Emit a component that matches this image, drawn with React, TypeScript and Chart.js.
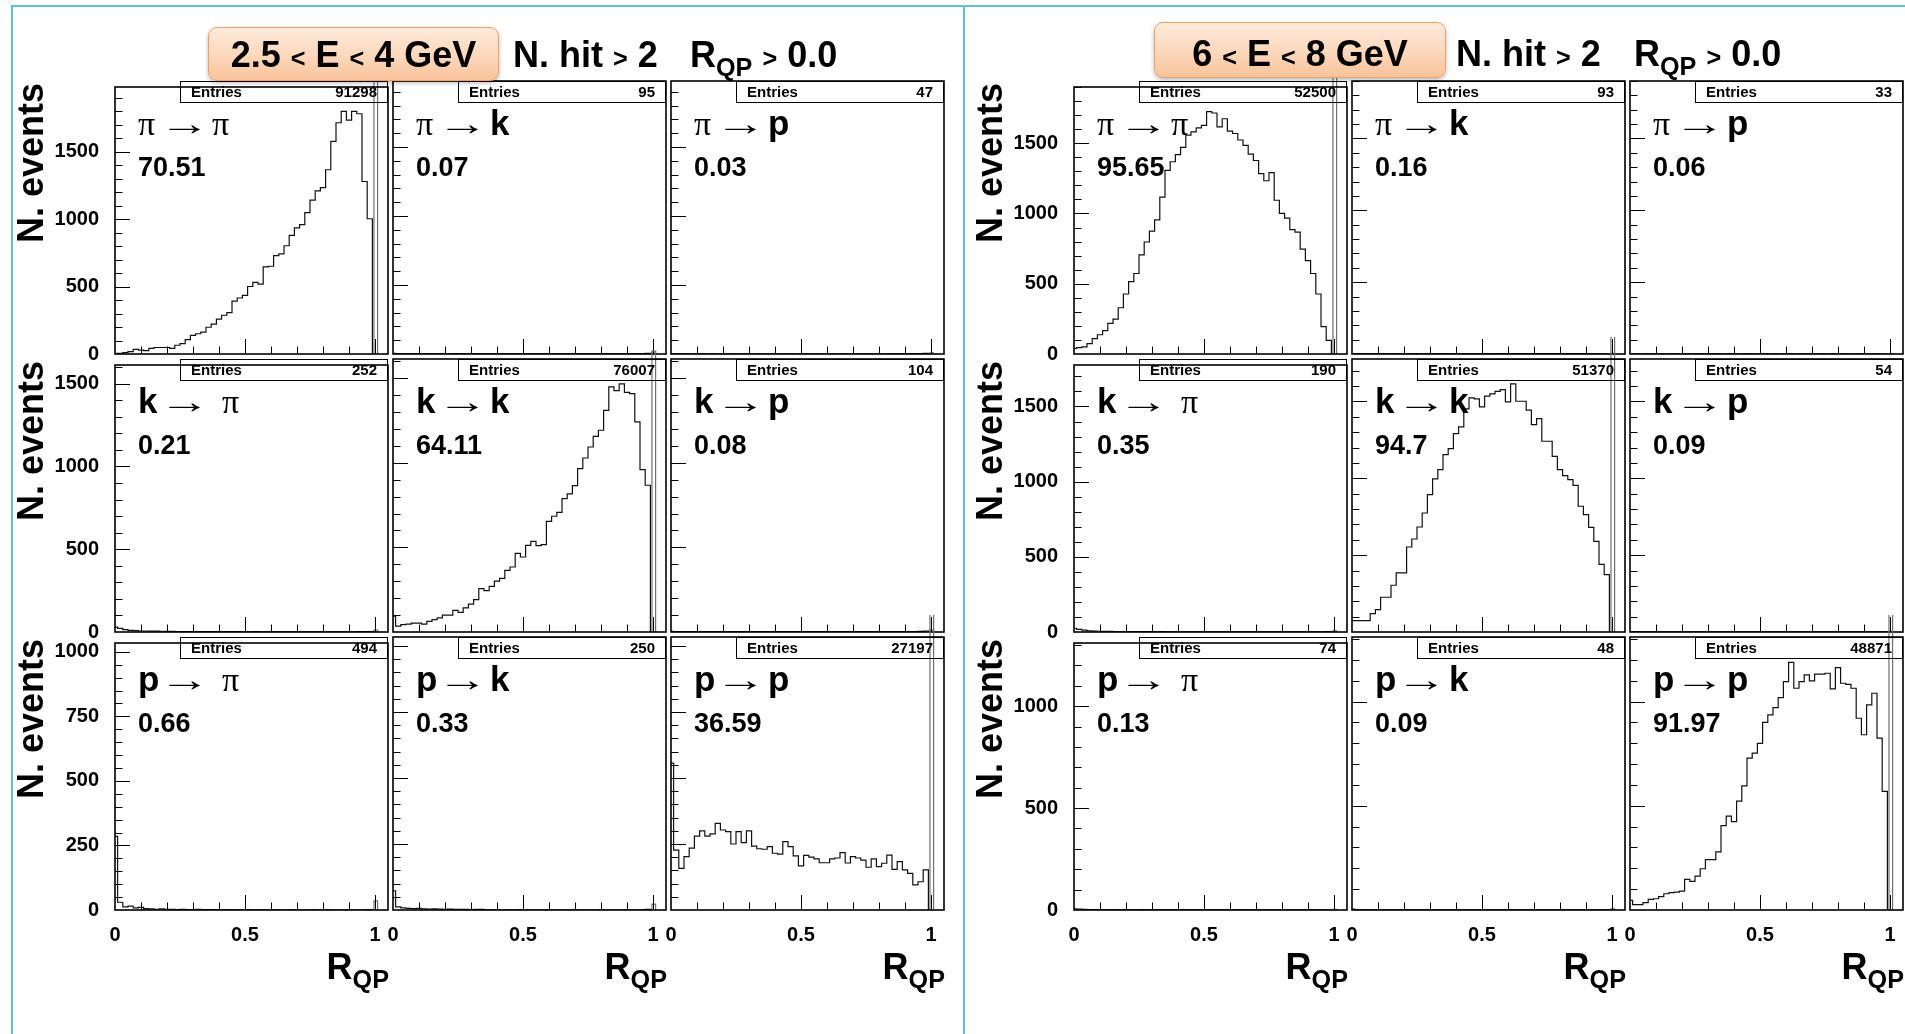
import React, { useEffect, useRef } from 'react';
import { Chart, registerables } from 'chart.js';

Chart.register(...registerables);

// ---------------------------------------------------------------------------
// Data: R_QP distributions, 50 bins of width 0.02 starting at -0.01.
// The R_QP ≈ 1 bin is kept on its own (it runs off scale in the diagonal pads).
// Pads are ordered true particle (row) -> identified particle (column).
// ---------------------------------------------------------------------------
const BIN_START = -0.01;
const BIN_WIDTH = 0.02;
const LAST_BIN = [0.996, 1.01];

const X_RANGE = [0, 1.05];
const X_TICKS = [0, 0.5, 1];
const X_MINOR = 0.1;

const PARTICLES = ['π', 'k', 'p'];

// ---- 2.5 < E < 4 GeV ----
const LOW_PI_PI = [5, 5, 10, 18, 34, 29, 25, 41, 48, 48, 48, 41, 65, 77, 106, 138, 150, 162, 198, 222, 258, 287, 307, 391, 415, 435, 500, 531, 517, 645, 650, 729, 742, 802, 879, 935, 959, 1048, 1140, 1208, 1232, 1365, 1575, 1713, 1797, 1732, 1797, 1780, 1278, 1002];
const LOW_PI_K = [4, 2, 2, 1, 2, 1, 1, 2, 1, 1, 1, 1, 2, 1, 1, 1, 1, 1, 1, 1, 1, 1, 1, 1, 1, 1, 1, 1, 1, 1, 1, 1, 1, 1, 1, 1, 1, 1, 1, 1, 1, 1, 1, 1, 1, 2, 2, 3, 3, 5];
const LOW_PI_P = [2, 1, 1, 1, 0, 1, 1, 0, 1, 0, 1, 0, 1, 0, 0, 1, 0, 1, 0, 0, 1, 0, 0, 1, 0, 1, 0, 0, 1, 0, 0, 1, 0, 1, 0, 0, 1, 0, 1, 0, 1, 0, 1, 1, 1, 1, 2, 2, 3, 4];
const LOW_K_PI = [30, 22, 14, 10, 8, 6, 6, 5, 5, 4, 4, 4, 3, 3, 3, 3, 3, 2, 2, 2, 2, 2, 2, 2, 2, 1, 1, 2, 1, 1, 1, 1, 1, 1, 1, 1, 1, 1, 1, 1, 1, 1, 1, 1, 1, 1, 1, 2, 2, 3];
const LOW_K_K = [93, 35, 43, 47, 53, 53, 47, 63, 73, 83, 100, 100, 128, 116, 142, 165, 191, 256, 244, 270, 301, 317, 364, 384, 465, 443, 512, 536, 510, 516, 654, 684, 707, 788, 816, 865, 965, 1028, 1093, 1156, 1192, 1310, 1448, 1426, 1466, 1416, 1409, 1241, 959, 867];
const LOW_K_P = [4, 3, 2, 2, 2, 2, 2, 2, 2, 2, 2, 2, 2, 2, 2, 2, 2, 2, 2, 2, 2, 2, 2, 2, 2, 2, 2, 2, 2, 2, 2, 2, 2, 2, 2, 2, 2, 2, 2, 2, 2, 2, 2, 2, 2, 2, 3, 3, 4, 6];
const LOW_P_PI = [285, 30, 12, 15, 8, 10, 5, 4, 3, 4, 3, 3, 2, 3, 2, 2, 3, 2, 2, 2, 1, 2, 1, 1, 1, 0, 1, 0, 1, 0, 0, 1, 0, 0, 1, 0, 0, 0, 1, 0, 0, 1, 0, 0, 0, 1, 0, 0, 1, 2];
const LOW_P_K = [73, 12, 8, 6, 5, 6, 4, 3, 4, 3, 2, 3, 2, 2, 2, 1, 2, 2, 1, 1, 1, 0, 1, 0, 1, 0, 0, 0, 0, 0, 1, 0, 0, 0, 0, 1, 0, 0, 0, 0, 1, 0, 0, 0, 0, 1, 0, 0, 1, 2];
const LOW_P_P = [556, 227, 158, 202, 234, 280, 300, 280, 288, 328, 303, 297, 250, 297, 255, 300, 242, 232, 230, 240, 215, 212, 259, 240, 205, 167, 207, 200, 194, 179, 179, 194, 197, 217, 178, 202, 197, 189, 162, 194, 164, 177, 208, 154, 183, 152, 139, 95, 107, 152];
const LOW_LAST_BIN = [2600, 15, 8, 12, 1660, 12, 35, 22, 1300];
const LOW_ENTRIES = [91298, 95, 47, 252, 76007, 104, 494, 250, 27197];
const LOW_FRACTIONS = [70.51, 0.07, 0.03, 0.21, 64.11, 0.08, 0.66, 0.33, 36.59];
const LOW_Y_MAX = [1978, 1613, 1034];
const LOW_Y_TICKS = [[0, 500, 1000, 1500], [0, 500, 1000, 1500], [0, 250, 500, 750, 1000]];
const LOW_Y_MINOR = [100, 100, 50];
const LOW_ENERGY = ['2.5', 'E', '4 GeV'];

// ---- 6 < E < 8 GeV ----
const HIGH_PI_PI = [39, 46, 51, 74, 109, 137, 167, 218, 248, 329, 427, 515, 573, 705, 797, 874, 955, 1117, 1307, 1368, 1419, 1470, 1558, 1581, 1609, 1627, 1725, 1715, 1616, 1674, 1586, 1569, 1523, 1484, 1423, 1377, 1284, 1233, 1291, 1094, 1001, 967, 885, 867, 746, 665, 573, 427, 195, 97];
const HIGH_PI_K = [3, 2, 2, 2, 1, 2, 1, 1, 2, 1, 1, 1, 2, 1, 1, 2, 1, 1, 2, 1, 1, 2, 1, 2, 1, 2, 2, 1, 2, 2, 2, 2, 3, 2, 2, 3, 2, 3, 2, 3, 2, 2, 3, 2, 2, 2, 1, 1, 1, 0];
const HIGH_PI_P = [1, 1, 0, 1, 1, 0, 1, 0, 1, 1, 0, 1, 0, 1, 1, 0, 1, 1, 0, 1, 1, 0, 1, 1, 0, 1, 1, 0, 1, 0, 1, 1, 0, 1, 0, 1, 0, 1, 0, 1, 0, 1, 0, 0, 1, 0, 0, 1, 0, 0];
const HIGH_K_PI = [25, 18, 12, 8, 6, 5, 4, 4, 3, 3, 3, 2, 2, 2, 2, 2, 1, 2, 1, 1, 1, 1, 1, 1, 1, 1, 1, 1, 1, 1, 1, 1, 1, 1, 1, 1, 1, 1, 1, 1, 1, 1, 1, 1, 1, 1, 1, 1, 1, 2];
const HIGH_K_K = [74, 74, 74, 74, 119, 145, 226, 226, 304, 384, 384, 553, 605, 683, 774, 894, 996, 1056, 1154, 1193, 1291, 1334, 1451, 1523, 1516, 1465, 1534, 1549, 1566, 1577, 1497, 1614, 1501, 1501, 1443, 1349, 1388, 1241, 1241, 1143, 1056, 1017, 991, 954, 818, 764, 681, 590, 440, 373];
const HIGH_K_P = [3, 2, 1, 1, 1, 1, 1, 1, 1, 1, 1, 1, 1, 1, 1, 1, 1, 1, 1, 1, 1, 1, 1, 1, 1, 1, 1, 1, 1, 1, 1, 1, 1, 1, 1, 1, 1, 1, 1, 1, 1, 1, 1, 1, 1, 1, 1, 1, 1, 1];
const HIGH_P_PI = [6, 4, 3, 2, 2, 2, 2, 1, 2, 1, 2, 1, 1, 2, 1, 2, 1, 1, 2, 1, 1, 2, 1, 1, 2, 1, 1, 2, 1, 1, 1, 1, 2, 1, 1, 1, 1, 1, 1, 1, 1, 1, 1, 1, 1, 1, 1, 1, 1, 0];
const HIGH_P_K = [4, 2, 1, 1, 1, 1, 1, 1, 1, 1, 1, 1, 1, 1, 1, 1, 1, 1, 1, 1, 1, 1, 1, 1, 1, 1, 1, 1, 1, 1, 1, 1, 1, 1, 1, 1, 1, 1, 1, 1, 1, 1, 1, 1, 1, 1, 1, 1, 1, 1];
const HIGH_P_P = [46, 26, 26, 35, 51, 54, 64, 78, 83, 86, 91, 147, 137, 163, 198, 242, 242, 279, 405, 450, 424, 522, 596, 729, 753, 800, 900, 936, 971, 1019, 1096, 1188, 1064, 1096, 1128, 1099, 1132, 1132, 1136, 1061, 1163, 1088, 1083, 1064, 920, 841, 984, 1040, 825, 569];
const HIGH_LAST_BIN = [2400, 5, 3, 8, 2200, 4, 3, 5, 1600];
const HIGH_ENTRIES = [52500, 93, 33, 190, 51370, 54, 74, 48, 48871];
const HIGH_FRACTIONS = [95.65, 0.16, 0.06, 0.35, 94.7, 0.09, 0.13, 0.09, 91.97];
const HIGH_Y_MAX = [1900, 1776, 1310];
const HIGH_Y_TICKS = [[0, 500, 1000, 1500], [0, 500, 1000, 1500], [0, 500, 1000]];
const HIGH_Y_MINOR = [100, 100, 100];
const HIGH_ENERGY = ['6', 'E', '8 GeV'];

const NHIT_CUT = 2;
const RQP_CUT = '0.0';

// ---------------------------------------------------------------------------
// Layout and style
// ---------------------------------------------------------------------------
const PAGE_W = 1905;
const PAGE_H = 1034;
const FRAME_W = 273;
const FRAME_H = 273;
const ROWS_Y = [81, 359, 637];
const PAD_L = 90;
const PAD_R = 6;
const PAD_T = 22;
const PAD_B = 45;
const MAJOR_TICK = 15;
const MINOR_TICK = 7.5;

const SANS = '"Liberation Sans", Arial, Helvetica, sans-serif';
const SERIF = '"Liberation Serif", "Times New Roman", serif';
const ARROW_FONT = '"Liberation Sans", "DejaVu Sans", sans-serif';
const PANEL_BLUE = '#62bfd8';

const LAYOUTS = [
  { cols: [115, 393, 671], yTitleX: 13, box: { x: 208, y: 27, w: 291, h: 54 }, titleBase: 67, nhitX: 513, rqpX: 690 },
  { cols: [1074, 1352, 1630], yTitleX: 972, box: { x: 1154, y: 22, w: 292, h: 56 }, titleBase: 66, nhitX: 1456, rqpX: 1634 },
];

type Panel = {
  hists: number[][];
  lastBin: number[];
  entries: number[];
  fractions: number[];
  yMax: number[];
  yTicks: number[][];
  yMinor: number[];
  energy: string[];
};

const PANELS: Panel[] = [
  {
    hists: [LOW_PI_PI, LOW_PI_K, LOW_PI_P, LOW_K_PI, LOW_K_K, LOW_K_P, LOW_P_PI, LOW_P_K, LOW_P_P],
    lastBin: LOW_LAST_BIN, entries: LOW_ENTRIES, fractions: LOW_FRACTIONS,
    yMax: LOW_Y_MAX, yTicks: LOW_Y_TICKS, yMinor: LOW_Y_MINOR, energy: LOW_ENERGY,
  },
  {
    hists: [HIGH_PI_PI, HIGH_PI_K, HIGH_PI_P, HIGH_K_PI, HIGH_K_K, HIGH_K_P, HIGH_P_PI, HIGH_P_K, HIGH_P_P],
    lastBin: HIGH_LAST_BIN, entries: HIGH_ENTRIES, fractions: HIGH_FRACTIONS,
    yMax: HIGH_Y_MAX, yTicks: HIGH_Y_TICKS, yMinor: HIGH_Y_MINOR, energy: HIGH_ENERGY,
  },
];

// ROOT-like frame with inward ticks
const rootFrame = {
  id: 'rootFrame',
  afterDraw(chart: any, _args: any, opts: any) {
    const { ctx, chartArea: a, scales } = chart;
    const xs = scales.x;
    const ys = scales.y;
    ctx.save();
    ctx.strokeStyle = '#000';
    ctx.lineWidth = 1;
    ctx.beginPath();
    const nx = Math.floor(xs.max / X_MINOR + 1e-6);
    for (let i = 1; i <= nx; i++) {
      const v = i * X_MINOR;
      const px = Math.round(xs.getPixelForValue(v)) + 0.5;
      const major = X_TICKS.some((t) => Math.abs(t - v) < 1e-6);
      ctx.moveTo(px, a.bottom);
      ctx.lineTo(px, a.bottom - (major ? MAJOR_TICK : MINOR_TICK));
    }
    const ny = Math.floor(ys.max / opts.minor + 1e-6);
    for (let i = 1; i <= ny; i++) {
      const v = i * opts.minor;
      const py = Math.round(ys.getPixelForValue(v)) + 0.5;
      const major = opts.majors.some((t: number) => Math.abs(t - v) < 1e-6);
      ctx.moveTo(a.left, py);
      ctx.lineTo(a.left + (major ? MAJOR_TICK : MINOR_TICK), py);
    }
    ctx.stroke();
    ctx.lineWidth = 1.6;
    ctx.strokeRect(a.left, a.top, a.right - a.left, a.bottom - a.top);
    ctx.restore();
  },
};

const TICK_FONT = { family: SANS, size: 20, weight: 'bold' as const };

function Hist(props: {
  fx: number; fy: number; values: number[]; last: number; yMax: number;
  yTicks: number[]; yMinor: number; showX: boolean; showY: boolean;
}) {
  const { fx, fy, values, last, yMax, yTicks, yMinor, showX, showY } = props;
  const ref = useRef<HTMLCanvasElement>(null);
  const W = PAD_L + FRAME_W + PAD_R;
  const H = PAD_T + FRAME_H + PAD_B;

  useEffect(() => {
    if (!ref.current) return;
    const body: { x: number; y: number }[] = [];
    values.forEach((v, i) => {
      const lo = BIN_START + i * BIN_WIDTH;
      body.push({ x: lo, y: v }, { x: lo + BIN_WIDTH, y: v });
    });
    body.push({ x: BIN_START + values.length * BIN_WIDTH, y: 0 });
    const edge = [
      { x: LAST_BIN[0], y: 0 }, { x: LAST_BIN[0], y: last },
      { x: LAST_BIN[1], y: last }, { x: LAST_BIN[1], y: 0 },
    ];
    const chart = new Chart(ref.current, {
      type: 'line',
      data: {
        datasets: [
          { data: body, borderColor: '#111', borderWidth: 1.2, pointRadius: 0, tension: 0, borderJoinStyle: 'miter' },
          { data: edge, borderColor: '#707070', borderWidth: 1.2, pointRadius: 0, tension: 0, clip: { left: 0, right: 0, bottom: 0, top: false } as any },
        ],
      },
      options: {
        animation: false,
        responsive: false,
        devicePixelRatio: 1,
        events: [],
        layout: { padding: { left: 0, right: PAD_R, top: PAD_T, bottom: 0 } },
        plugins: {
          legend: { display: false },
          tooltip: { enabled: false },
          rootFrame: { minor: yMinor, majors: yTicks },
        } as any,
        scales: {
          x: {
            type: 'linear', min: X_RANGE[0], max: X_RANGE[1],
            grid: { display: false, drawTicks: false },
            border: { display: false },
            ticks: { display: showX, autoSkip: false, maxRotation: 0, minRotation: 0, padding: 13, color: '#000', font: TICK_FONT, callback: (v: any) => String(v) },
            afterBuildTicks: (s: any) => { s.ticks = X_TICKS.map((value) => ({ value })); },
            afterFit: (s: any) => { s.height = PAD_B; },
          },
          y: {
            type: 'linear', min: 0, max: yMax,
            grid: { display: false, drawTicks: false },
            border: { display: false },
            ticks: { display: showY, autoSkip: false, padding: 16, color: '#000', font: TICK_FONT, callback: (v: any) => String(v) },
            afterBuildTicks: (s: any) => { s.ticks = yTicks.map((value) => ({ value })); },
            afterFit: (s: any) => { s.width = PAD_L; },
          },
        },
      } as any,
      plugins: [rootFrame],
    });
    return () => chart.destroy();
  }, []);

  return (
    <canvas
      ref={ref}
      width={W}
      height={H}
      style={{ position: 'absolute', left: fx - PAD_L, top: fy - PAD_T, width: W, height: H }}
    />
  );
}

// Text placed by its baseline
function Txt(props: {
  x: number; base: number; size: number; family?: string; weight?: string | number;
  align?: 'left' | 'right' | 'center'; children: React.ReactNode; stretch?: number;
}) {
  const { x, base, size, family = SANS, weight = 'bold', align = 'left', children, stretch } = props;
  const asc = family === SERIF ? 0.8375 : 0.8465;
  const style: React.CSSProperties = {
    position: 'absolute', top: base - asc * size, fontSize: size, fontFamily: family,
    fontWeight: weight as any, lineHeight: 1, whiteSpace: 'nowrap',
  };
  if (stretch) { style.transform = `scaleX(${stretch})`; style.transformOrigin = '0 0'; }
  if (align === 'left') style.left = x;
  else if (align === 'right') style.right = PAGE_W - x;
  else { style.left = x - 400; style.width = 800; style.textAlign = 'center'; }
  return <div style={style}>{children}</div>;
}

const Rel = ({ children }: { children: React.ReactNode }) => (
  <span style={{ fontSize: '0.7em' }}>{children}</span>
);

function Rqp({ size }: { size: number }) {
  return (
    <>
      R<span style={{ fontSize: size * 0.7, position: 'relative', top: size * 0.27 }}>QP</span>
    </>
  );
}

function PadLabel({ fx, fy, from, to }: { fx: number; fy: number; from: string; to: string }) {
  const base = fy + 54;
  const part = (s: string, x: number) =>
    s === 'π'
      ? <Txt x={x} base={base} size={34} family={SERIF} weight="normal">{s}</Txt>
      : <Txt x={x} base={base} size={35}>{s}</Txt>;
  const toShift = to === 'π' && from !== 'π' ? 10 : 0;
  return (
    <>
      {part(from, fx + 23)}
      <Txt x={fx + 44} base={base} size={34} family={ARROW_FONT} weight="normal" stretch={1.5}>→</Txt>
      {part(to, fx + 97 + toShift)}
    </>
  );
}

function StatsBox({ fx, fy, n }: { fx: number; fy: number; n: number }) {
  return (
    <div
      style={{
        position: 'absolute', left: fx + 65, top: fy, width: FRAME_W - 65, height: 22,
        border: '1.5px solid #000', boxSizing: 'border-box', fontFamily: SANS, fontWeight: 'bold',
        fontSize: 15, lineHeight: '20px', display: 'flex', justifyContent: 'space-between',
        padding: '0 10px 0 10px',
      }}
    >
      <span>Entries</span>
      <span>{n}</span>
    </div>
  );
}

function PanelView({ panel, layout }: { panel: Panel; layout: typeof LAYOUTS[number] }) {
  const pads: React.ReactNode[] = [];
  const overlays: React.ReactNode[] = [];
  for (let r = 0; r < 3; r++) {
    for (let c = 0; c < 3; c++) {
      const i = r * 3 + c;
      const fx = layout.cols[c];
      const fy = ROWS_Y[r];
      pads.push(
        <Hist
          key={`h${i}`} fx={fx} fy={fy} values={panel.hists[i]} last={panel.lastBin[i]}
          yMax={panel.yMax[r]} yTicks={panel.yTicks[r]} yMinor={panel.yMinor[r]}
          showX={r === 2} showY={c === 0}
        />,
      );
      overlays.push(
        <React.Fragment key={`o${i}`}>
          <StatsBox fx={fx} fy={fy} n={panel.entries[i]} />
          <PadLabel fx={fx} fy={fy} from={PARTICLES[r]} to={PARTICLES[c]} />
          <Txt x={fx + 23} base={fy + 96} size={27}>{String(panel.fractions[i])}</Txt>
        </React.Fragment>,
      );
    }
  }
  const yTitles = ROWS_Y.map((fy, r) => (
    <div
      key={`yt${r}`}
      style={{
        position: 'absolute', left: layout.yTitleX, top: fy + FRAME_H, width: FRAME_H,
        transform: 'rotate(-90deg)', transformOrigin: '0 0', textAlign: 'right',
        fontFamily: SANS, fontWeight: 'bold', fontSize: 36, lineHeight: 1, paddingRight: 2,
        boxSizing: 'border-box', whiteSpace: 'nowrap',
      }}
    >
      N. events
    </div>
  ));
  const xTitles = layout.cols.map((fx, c) => (
    <Txt key={`xt${c}`} x={fx + FRAME_W + 1} base={979} size={36} align="right">
      <Rqp size={36} />
    </Txt>
  ));
  const b = layout.box;
  const [lo, mid, hi] = panel.energy;
  return (
    <>
      {pads}
      {overlays}
      {yTitles}
      {xTitles}
      <Txt x={layout.nhitX} base={layout.titleBase} size={36}>
        N. hit <Rel>&gt;</Rel> {NHIT_CUT}
      </Txt>
      <Txt x={layout.rqpX} base={layout.titleBase} size={36}>
        <Rqp size={36} /> <Rel>&gt;</Rel> {RQP_CUT}
      </Txt>
      <div
        style={{
          position: 'absolute', left: b.x, top: b.y, width: b.w, height: b.h, boxSizing: 'border-box',
          borderRadius: 9, border: '1.5px solid #efa260',
          background: 'linear-gradient(180deg, #feeadb 0%, #fcd7bb 55%, #f9c39b 100%)',
          boxShadow: '0 2px 4px rgba(0,0,0,0.28)',
        }}
      />
      <Txt x={b.x + b.w / 2} base={layout.titleBase} size={36} align="center">
        {lo} <Rel>&lt;</Rel> {mid} <Rel>&lt;</Rel> {hi}
      </Txt>
    </>
  );
}

export default function App() {
  return (
    <div
      style={{
        position: 'absolute', left: 0, top: 0, width: PAGE_W, height: PAGE_H, overflow: 'hidden',
        background: '#fff', color: '#000', fontFamily: SANS,
      }}
    >
      {/* panel borders */}
      <div style={{ position: 'absolute', left: 11, top: 5, width: PAGE_W, height: 2, background: PANEL_BLUE }} />
      <div style={{ position: 'absolute', left: 11, top: 5, width: 2, height: PAGE_H, background: PANEL_BLUE }} />
      <div style={{ position: 'absolute', left: 963, top: 5, width: 2, height: PAGE_H, background: PANEL_BLUE }} />
      {PANELS.map((p, k) => (
        <PanelView key={k} panel={p} layout={LAYOUTS[k]} />
      ))}
    </div>
  );
}
